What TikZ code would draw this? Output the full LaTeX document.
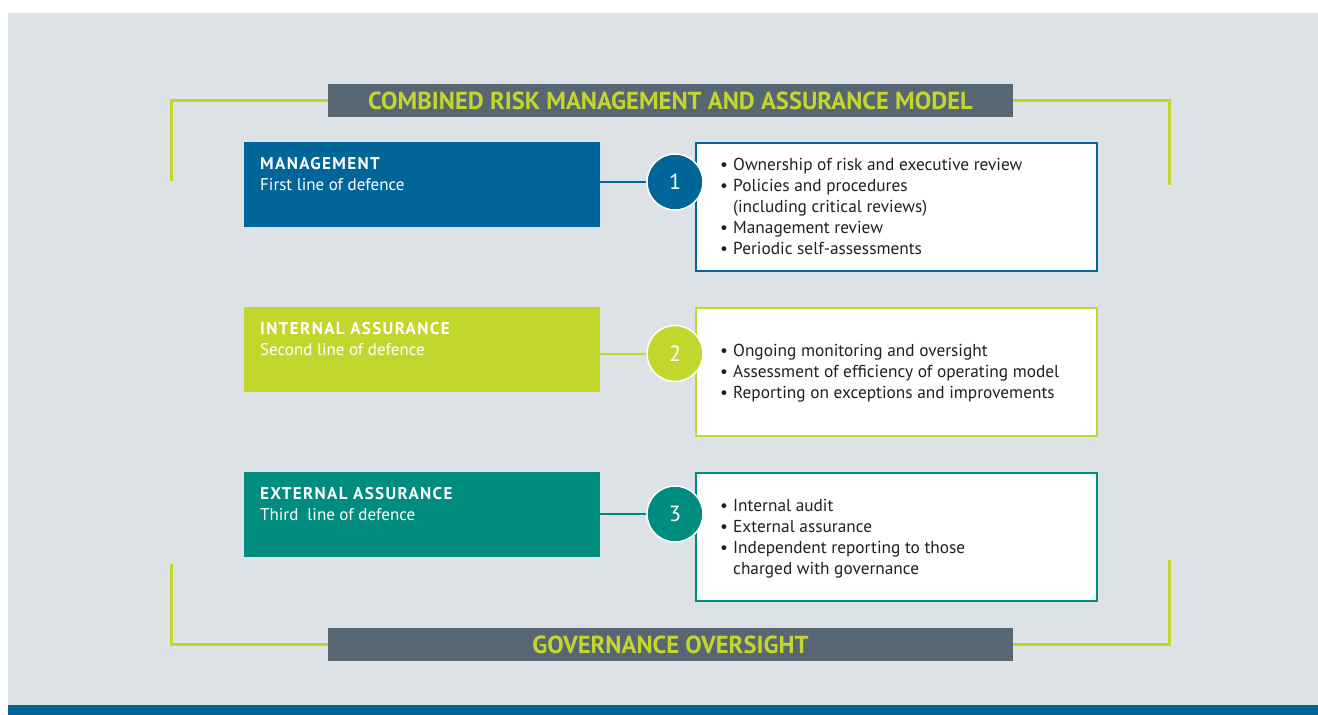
\documentclass[tikz,border=0pt]{standalone}
\usepackage{fontspec}
\setmainfont{PT Sans}
\definecolor{bgc}{HTML}{DDE2E6}
\definecolor{stripc}{HTML}{00669A}
\definecolor{barc}{HTML}{566773}
\definecolor{limec}{HTML}{C2D62E}
\definecolor{bluec}{HTML}{00669A}
\definecolor{tealc}{HTML}{008C7E}
\definecolor{txtc}{HTML}{231F20}
\newcommand{\bl}{\makebox[13pt][l]{\textbullet}}
\newcommand{\ind}{\hspace*{13pt}}
\newcommand{\hd}[1]{{\bfseries\addfontfeature{LetterSpace=8}#1}}
\begin{document}
\begin{tikzpicture}[x=1pt,y=-1pt,
  barbox/.style={fill=barc, minimum width=685pt, minimum height=33pt, inner sep=0pt,
    text=limec, font=\fontsize{24.6}{26}\selectfont\bfseries},
  bracket/.style={draw=limec, line width=3pt},
  linebox/.style={minimum width=356pt, minimum height=85pt, inner sep=0pt, anchor=north west},
  listbox/.style={fill=white, line width=1.5pt, minimum width=401pt, minimum height=128pt, inner sep=0pt, anchor=north west},
  numc/.style={circle, draw=white, line width=1.5pt, minimum size=56pt, inner sep=0pt,
    text=white, font=\fontsize{22}{24}\selectfont},
  conn/.style={line width=2pt},
  headtxt/.style={anchor=north west, align=left, text=white, inner sep=0pt,
    font=\fontsize{17}{21}\selectfont},
  listtxt/.style={anchor=north west, align=left, text=txtc, inner sep=0pt,
    font=\fontsize{17.3}{21}\selectfont}
]
\fill[bgc] (8,13) rectangle (1318,715);
\fill[stripc] (8,705) rectangle (1318,715);
\useasboundingbox (0,0) rectangle (1318,715);

% bars
\node[barbox] (title) at (670.5,100.5) {COMBINED RISK MANAGEMENT AND ASSURANCE MODEL};
\node[barbox] (gov) at (670.5,644.5) {GOVERNANCE OVERSIGHT};
\coordinate (tl) at (171,181);
\coordinate (tr) at (1169,185);
\coordinate (bl) at (171,564);
\coordinate (br) at (1169,560);
\draw[bracket] (title.west) -| (tl);
\draw[bracket] (title.east) -| (tr);
\draw[bracket] (gov.west) -| (bl);
\draw[bracket] (gov.east) -| (br);

% row 1
\node[linebox, fill=bluec] (m1) at (244,142) {};
\node[listbox, draw=bluec] (l1) at (695,142) {};
\node[numc, fill=bluec] (c1) at (675,182) {1};
\draw[conn, bluec] (m1.east |- c1) -- (c1);
\node[headtxt] (h1) at (260,157) {\hd{MANAGEMENT}\\First line of defence};
\node[listtxt] (t1) at (720,158) {\bl Ownership of risk and executive review\\\bl Policies and procedures\\\ind (including critical reviews)\\\bl Management review\\\bl Periodic self-assessments};

% row 2
\node[linebox, fill=limec] (m2) at (244,307) {};
\node[listbox, draw=limec] (l2) at (695,307) {};
\node[numc, fill=limec] (c2) at (675,353.5) {2};
\draw[conn, limec] (m2.east |- c2) -- (c2);
\node[headtxt] (h2) at (260,322) {\hd{INTERNAL ASSURANCE}\\Second line of defence};
\node[listtxt] (t2) at (720,344) {\bl Ongoing monitoring and oversight\\\bl Assessment of efficiency of operating model\\\bl Reporting on exceptions and improvements};

% row 3
\node[linebox, fill=tealc] (m3) at (244,472) {};
\node[listbox, draw=tealc] (l3) at (695,472) {};
\node[numc, fill=tealc] (c3) at (675,514) {3};
\draw[conn, tealc] (m3.east |- c3) -- (c3);
\node[headtxt] (h3) at (260,487) {\hd{EXTERNAL ASSURANCE}\\Third\ \ line of defence};
\node[listtxt] (t3) at (720,499) {\bl Internal audit\\\bl External assurance\\\bl Independent reporting to those\\\ind charged with governance};
\end{tikzpicture}
\end{document}
